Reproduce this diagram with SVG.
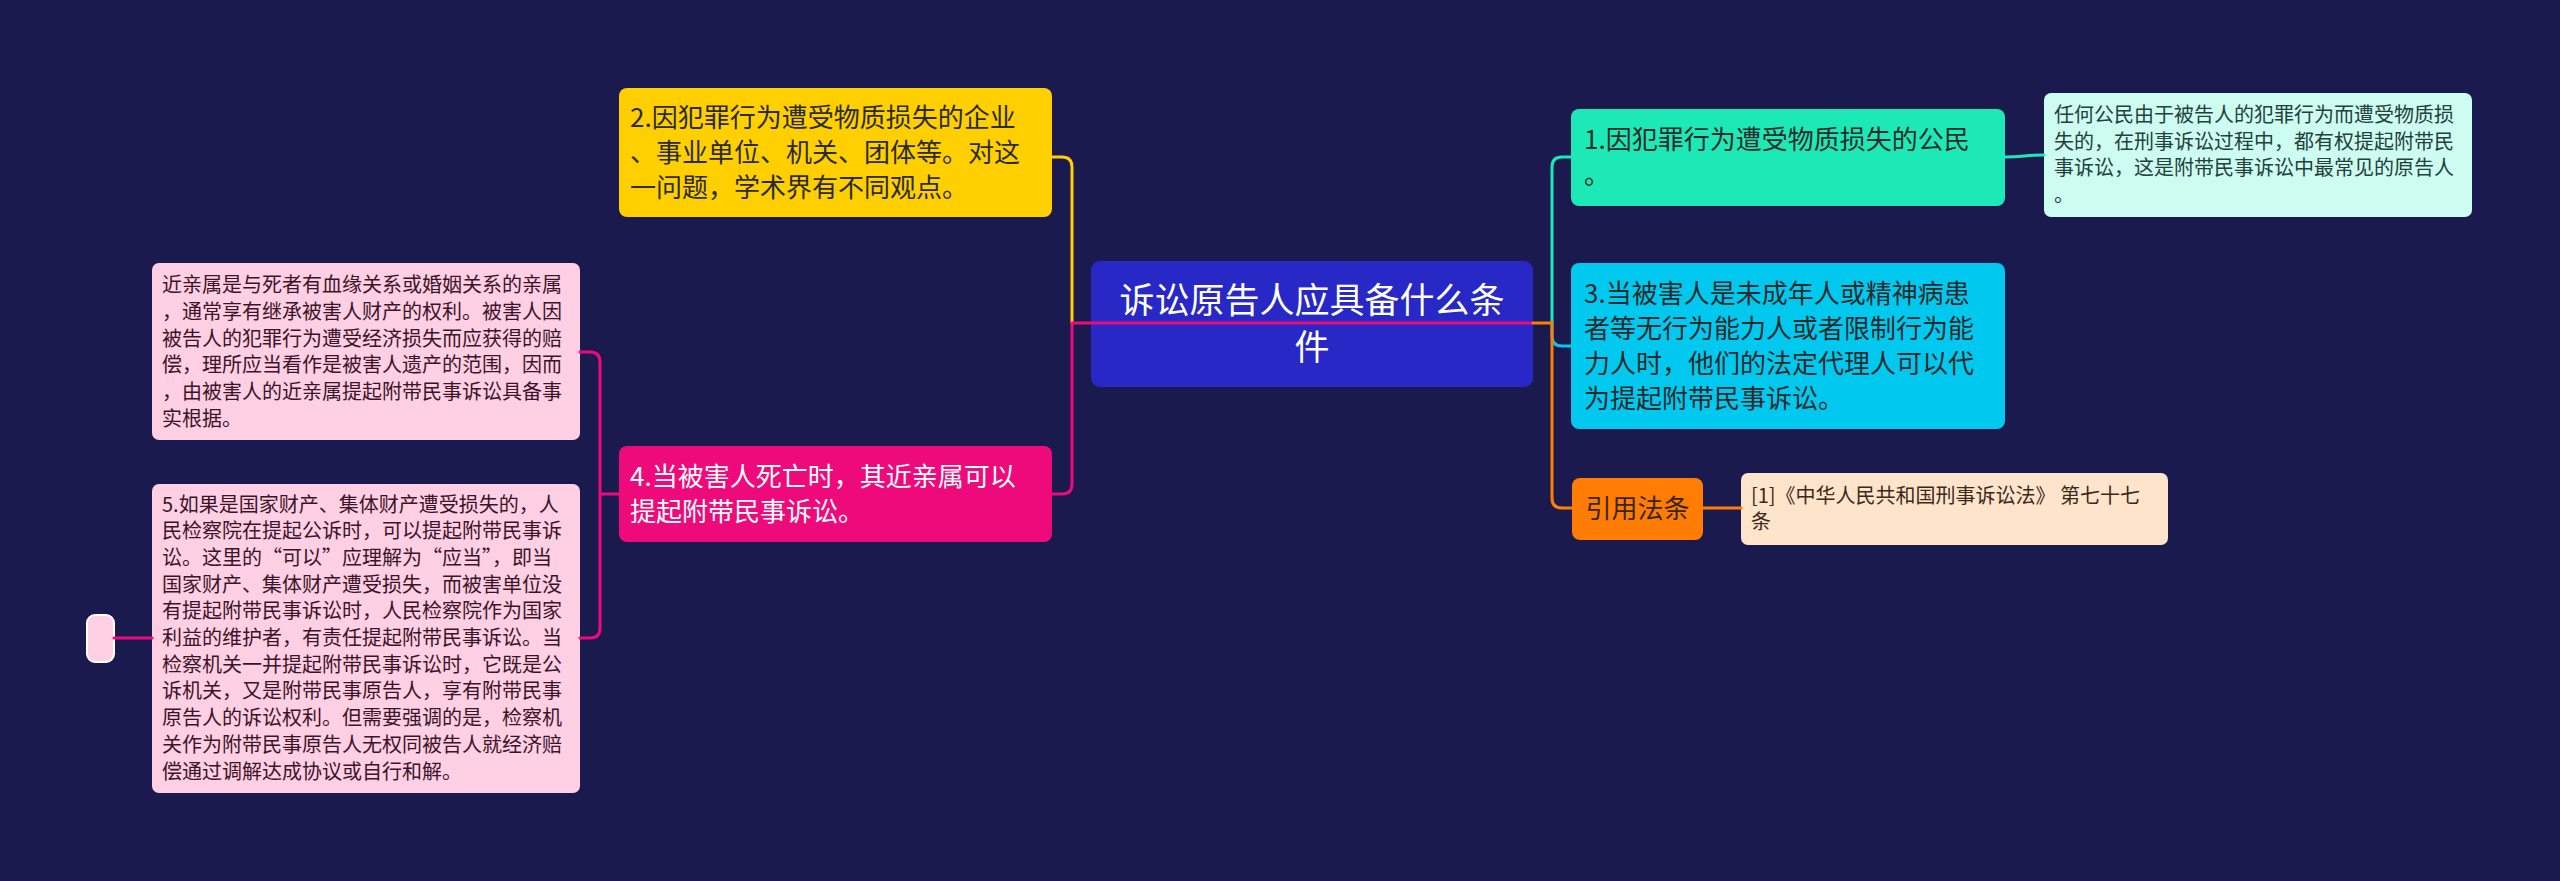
<svg xmlns="http://www.w3.org/2000/svg" width="2560" height="881" viewBox="0 0 2560 881">
<style>
text{font-family:"Noto Sans CJK SC","Noto Sans",sans-serif;}
.c{fill:none;stroke-width:3;stroke-linecap:round;stroke-linejoin:round;}
.t26{font-size:26px;fill:#2b2b2b;}
.t20{font-size:20px;}
</style>
<rect x="0" y="0" width="2560" height="881" fill="#1b1a4f"/>
<g id="center">
<rect x="1091" y="261" width="442" height="126" rx="9" fill="#2828c6"/>
<text x="1312" y="312.5" font-size="35" fill="#ffffff" text-anchor="middle">诉讼原告人应具备什么条</text>
<text x="1312" y="359.5" font-size="35" fill="#ffffff" text-anchor="middle">件</text>
</g>
<g id="n2">
<rect x="619" y="88" width="433" height="129" rx="8" fill="#ffcf00"/>
<text class="t26" x="630" y="127">2.因犯罪行为遭受物质损失的企业</text>
<text class="t26" x="630" y="162">、事业单位、机关、团体等。对这</text>
<text class="t26" x="630" y="197">一问题，学术界有不同观点。</text>
</g>
<g id="n4">
<rect x="619" y="446" width="433" height="96" rx="8" fill="#ef0a7b"/>
<text class="t26" x="630" y="486" fill="#ffffff" style="fill:#ffffff">4.当被害人死亡时，其近亲属可以</text>
<text class="t26" x="630" y="521" style="fill:#ffffff">提起附带民事诉讼。</text>
</g>
<g id="n4a">
<rect x="152" y="263" width="428" height="177" rx="7" fill="#ffcfe3"/>
<g class="t20" fill="#3a1428">
<text x="162" y="292.3">近亲属是与死者有血缘关系或婚姻关系的亲属</text>
<text x="162" y="319">，通常享有继承被害人财产的权利。被害人因</text>
<text x="162" y="345.7">被告人的犯罪行为遭受经济损失而应获得的赔</text>
<text x="162" y="372.3">偿，理所应当看作是被害人遗产的范围，因而</text>
<text x="162" y="399">，由被害人的近亲属提起附带民事诉讼具备事</text>
<text x="162" y="425.7">实根据。</text>
</g>
</g>
<g id="n5">
<rect x="152" y="484" width="428" height="309" rx="7" fill="#ffcfe3"/>
<g class="t20" fill="#3a1428">
<text x="162" y="511.5">5.如果是国家财产、集体财产遭受损失的，人</text>
<text x="162" y="538.2">民检察院在提起公诉时，可以提起附带民事诉</text>
<text x="162" y="564.9">讼。这里的“可以”应理解为“应当”，即当</text>
<text x="162" y="591.6">国家财产、集体财产遭受损失，而被害单位没</text>
<text x="162" y="618.3">有提起附带民事诉讼时，人民检察院作为国家</text>
<text x="162" y="645">利益的维护者，有责任提起附带民事诉讼。当</text>
<text x="162" y="671.7">检察机关一并提起附带民事诉讼时，它既是公</text>
<text x="162" y="698.4">诉机关，又是附带民事原告人，享有附带民事</text>
<text x="162" y="725.1">原告人的诉讼权利。但需要强调的是，检察机</text>
<text x="162" y="751.8">关作为附带民事原告人无权同被告人就经济赔</text>
<text x="162" y="778.5">偿通过调解达成协议或自行和解。</text>
</g>
</g>
<g id="n5a">
<rect x="87" y="615" width="27" height="47" rx="8" fill="#ffd0e4" stroke="#ffffff" stroke-width="2"/>
</g>
<g id="n1">
<rect x="1571" y="109" width="434" height="97" rx="8" fill="#1de9b6"/>
<text class="t26" x="1584" y="149">1.因犯罪行为遭受物质损失的公民</text>
<text class="t26" x="1584" y="184">。</text>
</g>
<g id="n1a">
<rect x="2044" y="93" width="428" height="124" rx="7" fill="#cdfdf0"/>
<g class="t20" fill="#24403c">
<text x="2054" y="122">任何公民由于被告人的犯罪行为而遭受物质损</text>
<text x="2054" y="148.7">失的，在刑事诉讼过程中，都有权提起附带民</text>
<text x="2054" y="175.3">事诉讼，这是附带民事诉讼中最常见的原告人</text>
<text x="2054" y="202">。</text>
</g>
</g>
<g id="n3">
<rect x="1571" y="263" width="434" height="166" rx="8" fill="#00c8ef"/>
<text class="t26" x="1584" y="302.5">3.当被害人是未成年人或精神病患</text>
<text class="t26" x="1584" y="337.5">者等无行为能力人或者限制行为能</text>
<text class="t26" x="1584" y="372.5">力人时，他们的法定代理人可以代</text>
<text class="t26" x="1584" y="407.5">为提起附带民事诉讼。</text>
</g>
<g id="law">
<rect x="1572" y="478" width="131" height="62" rx="8" fill="#ff7d05"/>
<text class="t26" x="1637.5" y="518" text-anchor="middle" style="fill:#3a2410">引用法条</text>
</g>
<g id="lawref">
<rect x="1741" y="473" width="427" height="72" rx="7" fill="#ffe4cc"/>
<g class="t20" fill="#3a2a1a">
<text x="1751" y="502.7">[1]《中华人民共和国刑事诉讼法》 第七十七</text>
<text x="1751" y="529.3">条</text>
</g>
</g>
<g id="connectors">
<path class="c" stroke="#ffcf00" d="M1072,323 V167 Q1072,157 1062,157 H1052"/>
<path class="c" stroke="#ef0a7b" d="M1533,323 H1072 V484 Q1072,494 1062,494 H1052"/>
<path class="c" stroke="#ef0a7b" d="M619,494 H600 M580,352 H590 Q600,352 600,362 V628 Q600,638 590,638 H580"/>
<path class="c" stroke="#ef0a7b" d="M152,638 H114"/>
<path class="c" stroke="#1de9b6" d="M1552,323 V167 Q1552,157 1562,157 H1571"/>
<path class="c" stroke="#00c8ef" d="M1552,323 V336 Q1552,346 1562,346 H1571"/>
<path class="c" stroke="#ff7d05" d="M1533,323 H1552 V498 Q1552,508 1562,508 H1572"/>
<path class="c" stroke="#1de9b6" d="M2005,157 C2025,157 2024,155 2044,155"/>
<path class="c" stroke="#ff7d05" d="M1703,508 H1741"/>
</g>
</svg>
